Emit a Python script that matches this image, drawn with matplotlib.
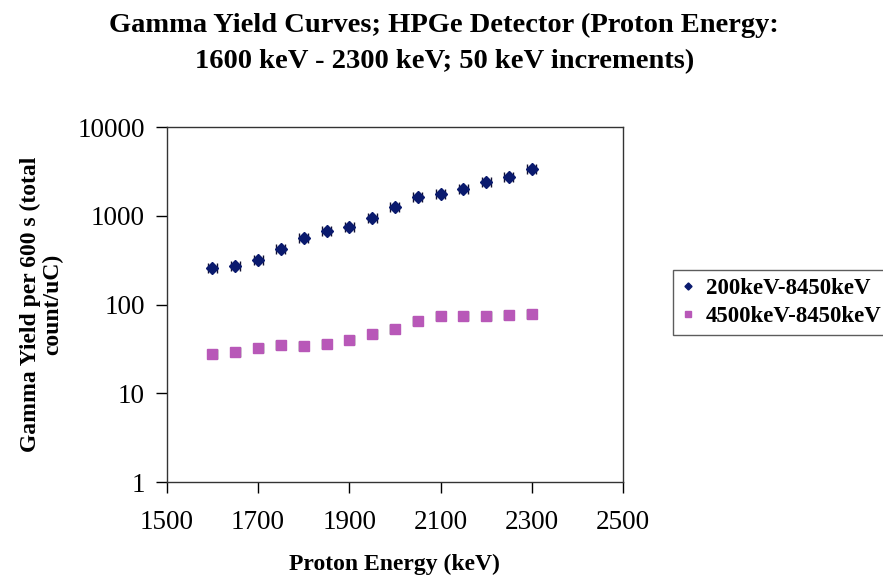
import matplotlib
matplotlib.use("Agg")
import matplotlib.pyplot as plt

energy = [1600, 1650, 1700, 1750, 1800, 1850, 1900, 1950, 2000, 2050, 2100, 2150, 2200, 2250, 2300]
yield_200_8450 = [256, 274, 315, 425, 557, 679, 753, 944, 1245, 1627, 1773, 2000, 2399, 2754, 3362]
yield_4500_8450 = [27.7, 29.4, 32.6, 34.7, 34.1, 35.9, 40.1, 46.1, 53.0, 65.7, 74.2, 74.2, 73.6, 76.7, 78.2]
energy_err = 10
labels = ["200keV-8450keV", "4500keV-8450keV"]
xticks = [1500, 1700, 1900, 2100, 2300, 2500]
yticks = [1, 10, 100, 1000, 10000]

plt.rcParams['font.family'] = ['Liberation Serif', 'DejaVu Serif']

fig = plt.figure(figsize=(8.83, 5.78), dpi=100)
ax = fig.add_axes([0.189, 0.166, 0.5165, 0.614])

ax.errorbar(energy, yield_200_8450, xerr=energy_err, fmt='D', color='#0a1a6e',
            ecolor='#111133', elinewidth=1.0, capsize=3.5, markersize=6, label=labels[0])
ax.errorbar(energy, yield_4500_8450, xerr=energy_err, fmt='s', color='#b858b8',
            ecolor='#222222', elinewidth=1.0, capsize=3.5, markersize=7.5, label=labels[1])

ax.set_yscale('log')
ax.set_xlim(1500, 2500)
ax.set_ylim(1, 10000)
ax.set_xticks(xticks)
ax.set_xticklabels([str(t) for t in xticks])
ax.set_yticks(yticks)
ax.set_yticklabels([str(t) for t in yticks])
ax.minorticks_off()
ax.tick_params(axis='both', labelsize=19.5, length=8, width=1, direction='out')
ax.tick_params(axis='x', pad=12)
ax.tick_params(axis='y', pad=8)
for s in ax.spines.values():
    s.set_linewidth(1.0)
    s.set_color('#333333')

ax.set_xlabel("Proton Energy (keV)", fontsize=17, fontweight='bold', labelpad=14)
ax.set_ylabel("Gamma Yield per 600 s (total\ncount/uC)", fontsize=17, fontweight='bold',
              labelpad=10, linespacing=1.05)

fig.suptitle("Gamma Yield Curves; HPGe Detector (Proton Energy:\n1600 keV - 2300 keV; 50 keV increments)",
             fontsize=20.5, fontweight='bold', x=0.503, y=0.978, linespacing=1.6)

h, l = ax.get_legend_handles_labels()
h = [hh[0] for hh in h]
leg = fig.legend(h, l, loc='center left', bbox_to_anchor=(0.749, 0.476),
                 frameon=True, fancybox=False, edgecolor='#333333', markerscale=0.6,
                 handlelength=0.6, handletextpad=0.5, borderpad=0.35, labelspacing=0.3,
                 prop={'weight': 'bold', 'size': 16.5})
leg.get_frame().set_linewidth(1.0)

fig.savefig("out.png", dpi=100)
